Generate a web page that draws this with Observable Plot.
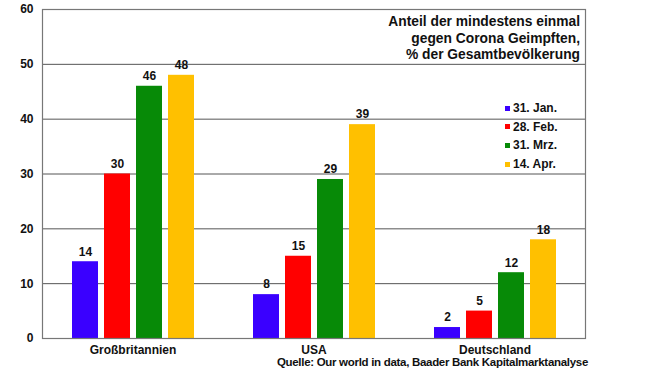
<!DOCTYPE html>
<html>
<head>
<meta charset="utf-8">
<script src="https://cdn.jsdelivr.net/npm/d3@7"></script>
<script src="https://cdn.jsdelivr.net/npm/@observablehq/plot@0.6"></script>
<style>
  html, body { margin: 0; padding: 0; background: #fff; }
  #wrap { position: relative; width: 647px; height: 383px; font-family: "Liberation Sans", Arial, sans-serif; font-weight: bold; color: #111; }
  #title { position: absolute; right: 67px; top: 14px; text-align: right; font-size: 13.8px; line-height: 16.5px; }
  #legend { position: absolute; left: 505px; top: 99px; font-size: 12px; }
  #legend .item { height: 18.6px; display: flex; align-items: center; }
  #legend .sw { width: 5px; height: 5px; margin-right: 3px; }
  #caption { position: absolute; right: 59px; top: 356px; font-size: 11.5px; letter-spacing: -0.3px; white-space: nowrap; }
</style>
</head>
<body>
<div id="wrap">
  <div id="chart"></div>
  <div id="title"></div>
  <div id="legend"></div>
  <div id="caption"></div>
</div>
<script>
const countries = ["Großbritannien", "USA", "Deutschland"];
const dates = ["31. Jan.", "28. Feb.", "31. Mrz.", "14. Apr."];
const valuesGB = [14, 30, 46, 48];
const valuesUSA = [8, 15, 29, 39];
const valuesDE = [2, 5, 12, 18];
const colors = ["#3a00ff", "#ff0000", "#078a07", "#ffc000"];
const yTicks = [0, 10, 20, 30, 40, 50, 60];
const titleLines = ["Anteil der mindestens einmal", "gegen Corona Geimpften,", "% der Gesamtbevölkerung"];
const captionText = "Quelle: Our world in data, Baader Bank Kapitalmarktanalyse";

const series = [valuesGB, valuesUSA, valuesDE];
const data = [];
countries.forEach((c, i) => dates.forEach((d, j) => data.push({country: c, date: d, value: series[i][j]})));

const chart = Plot.plot({
  width: 647,
  height: 383,
  marginLeft: 42,
  marginRight: 62,
  marginTop: 9,
  marginBottom: 45,
  style: {fontFamily: "'Liberation Sans', Arial, sans-serif", fontSize: "12px", fontWeight: "bold", color: "#111", background: "transparent"},
  fx: {domain: countries, padding: 0, label: null, tickSize: 0, tickPadding: 7},
  x: {domain: dates, paddingInner: 0.2, paddingOuter: 0.85, axis: null},
  y: {domain: [0, 60], ticks: yTicks, tickSize: 0, tickPadding: 9, label: null, tickFormat: d => d},
  color: {domain: dates, range: colors},
  marks: [
    Plot.ruleY(yTicks, {stroke: "#555", strokeWidth: 1}),
    Plot.barY(data, {fx: "country", x: "date", y: "value", fill: "date"}),
    Plot.text(data, {fx: "country", x: "date", y: "value", text: d => String(d.value), dy: -10, fill: "#111", fontSize: 12, fontWeight: "bold"}),
    Plot.frame({facet: "super", stroke: "#777", strokeWidth: 1.2})
  ]
});
document.getElementById("chart").appendChild(chart);

document.getElementById("title").innerHTML = titleLines.map(t => `<div>${t}</div>`).join("");
document.getElementById("legend").innerHTML = dates.map((d, i) =>
  `<div class="item"><span class="sw" style="background:${colors[i]}"></span><span>${d}</span></div>`).join("");
document.getElementById("caption").textContent = captionText;
</script>
</body>
</html>
